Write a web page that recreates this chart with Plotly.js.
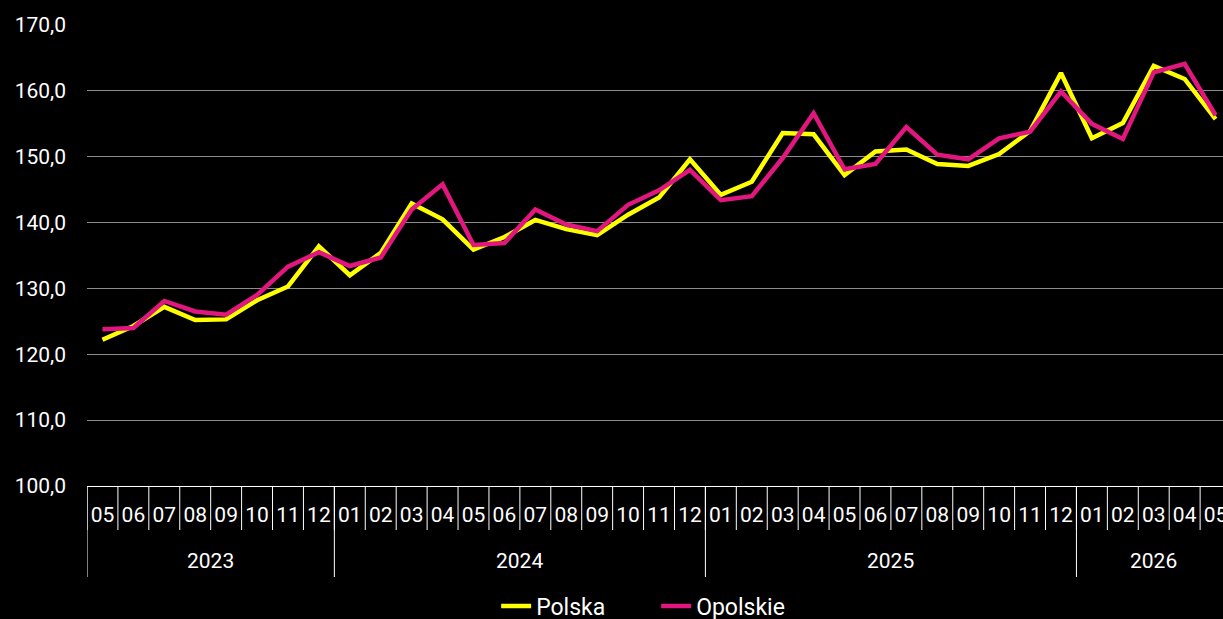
<!DOCTYPE html>
<html>
<head>
<meta charset="utf-8">
<script src="https://cdn.plot.ly/plotly-3.0.1.min.js"></script>
<style>
html,body{margin:0;padding:0;background:#000;}
#chart{width:1223px;height:619px;}
</style>
</head>
<body>
<div id="chart"></div>
<script>
const years = ["2023","2023","2023","2023","2023","2023","2023","2023",
  "2024","2024","2024","2024","2024","2024","2024","2024","2024","2024","2024","2024",
  "2025","2025","2025","2025","2025","2025","2025","2025","2025","2025","2025","2025",
  "2026","2026","2026","2026","2026"];
const months = ["05","06","07","08","09","10","11","12",
  "01","02","03","04","05","06","07","08","09","10","11","12",
  "01","02","03","04","05","06","07","08","09","10","11","12",
  "01","02","03","04","05"];
const polska = [122.2,124.3,127.2,125.2,125.3,128.2,130.3,136.4,
  132.0,135.4,142.9,140.5,135.9,137.8,140.4,139.0,138.1,141.2,143.8,149.6,
  144.2,146.2,153.6,153.4,147.2,150.8,151.1,148.9,148.6,150.4,153.9,162.7,
  152.8,155.1,163.8,161.8,155.7];
const opolskie = [123.8,124.0,128.1,126.5,126.0,129.0,133.3,135.5,
  133.4,134.7,142.0,145.8,136.6,136.9,142.0,139.7,138.7,142.7,144.9,148.0,
  143.4,144.0,149.8,156.6,148.1,148.9,154.5,150.3,149.6,152.8,153.8,159.9,
  155.0,152.7,162.8,164.1,156.3];
const yTicks = [100,110,120,130,140,150,160,170];

const fam = "Roboto, 'Noto Sans', sans-serif";
const keys = years.map((y, i) => y + "-" + months[i]);

// year groups derived from the data arrays
const groups = [];
years.forEach((y, i) => {
  const g = groups.length ? groups[groups.length - 1] : null;
  if (g && g.year === y) g.last = i; else groups.push({year: y, first: i, last: i});
});

const plotH = 461;
const monthDepth = -44 / plotH;
const yearDepth = -(577 - 486) / plotH;
const shapes = [];
keys.forEach((k, i) => {
  shapes.push({type: "line", xref: "x", yref: "paper",
    x0: i - 0.5, x1: i - 0.5, y0: 0, y1: monthDepth,
    line: {color: "#ffffff", width: 1}});
});
groups.forEach(g => {
  shapes.push({type: "line", xref: "x", yref: "paper",
    x0: g.first - 0.5, x1: g.first - 0.5, y0: 0, y1: yearDepth,
    line: {color: "#ffffff", width: 1}});
});
const annotations = groups.map(g => ({xref: "x", yref: "paper",
  x: (g.first + g.last) / 2, y: -(561 - 486) / plotH, yanchor: "middle", xanchor: "center",
  text: g.year, showarrow: false, font: {family: fam, color: "#ffffff", size: 21}}));

const traces = [
  {x: keys, y: polska, name: "Polska", type: "scatter", mode: "lines",
   line: {color: "#ffff00", width: 4.5}},
  {x: keys, y: opolskie, name: "Opolskie", type: "scatter", mode: "lines",
   line: {color: "#e2167f", width: 4.5}}
];

const layout = {
  width: 1223, height: 619,
  paper_bgcolor: "#000000", plot_bgcolor: "#000000",
  font: {family: fam, color: "#ffffff", size: 20},
  separators: ", ",
  margin: {l: 87, r: 0, t: 25, b: 133, autoexpand: false},
  showlegend: true,
  legend: {orientation: "h", x: 0.501, xanchor: "center", y: -(606 - 486) / plotH, yanchor: "middle",
    entrywidth: 115, entrywidthmode: "pixels",
    font: {family: fam, color: "#ffffff", size: 23}, bgcolor: "rgba(0,0,0,0)"},
  shapes: shapes,
  annotations: annotations,
  xaxis: {type: "category", categoryorder: "array", categoryarray: keys,
    range: [-0.5, 36.24],
    tickmode: "array", tickvals: keys, ticktext: months,
    showline: true, linecolor: "#ffffff", linewidth: 1,
    showgrid: false, zeroline: false, tickangle: 0, automargin: false,
    ticks: "", ticklabelstandoff: 10,
    tickfont: {family: fam, color: "#ffffff", size: 21}},
  yaxis: {range: [100, 170], tickvals: yTicks, tickformat: ".1f",
    showgrid: true, gridcolor: "#8c8c8c", gridwidth: 1,
    zeroline: false, showline: false, ticks: "", ticklabelstandoff: 20, automargin: false,
    tickfont: {family: fam, color: "#ffffff", size: 21}}
};

Plotly.newPlot("chart", traces, layout, {displayModeBar: false, staticPlot: true});
</script>
</body>
</html>
